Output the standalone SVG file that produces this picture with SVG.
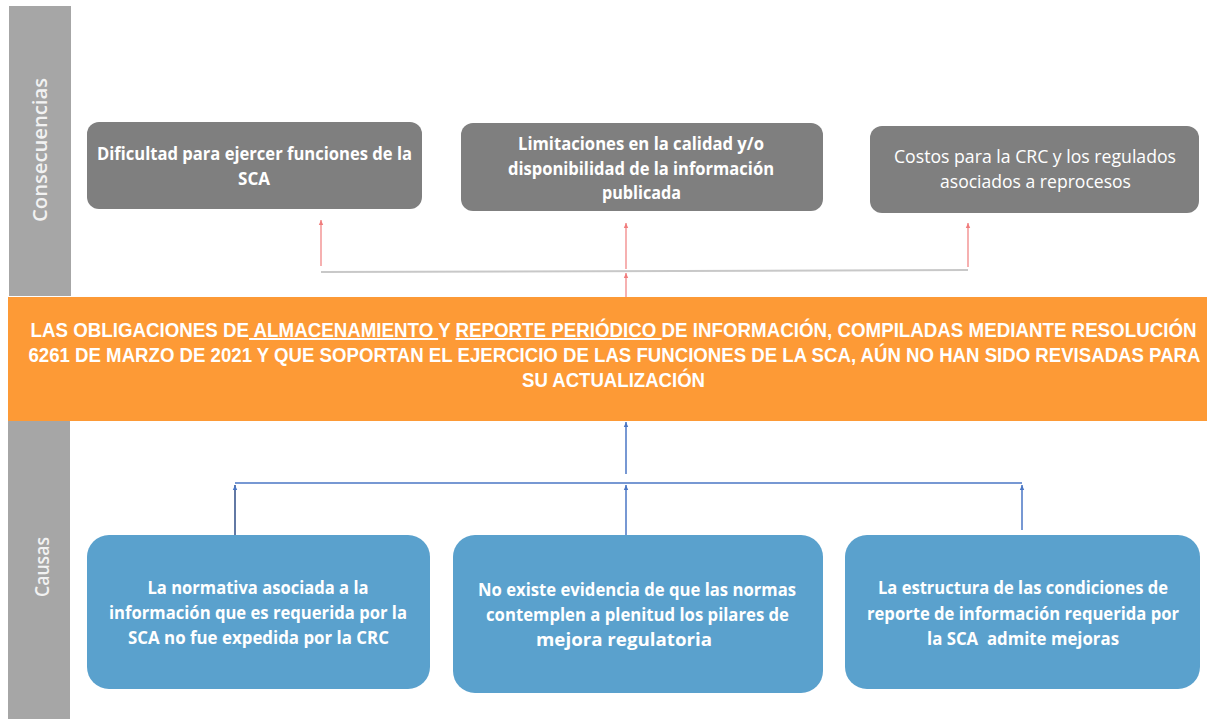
<svg xmlns="http://www.w3.org/2000/svg" width="1207" height="719" viewBox="0 0 1207 719">
<style>
.side{fill:#a6a6a6}
.side-t{fill:#f2f2f2;font-family:"Open Sans","Liberation Sans",sans-serif;font-weight:600;font-size:20px;text-anchor:middle}
.cons{fill:#7f7f7f}
.cause{fill:#5aa1cd}
.t{fill:#ffffff;font-family:"Open Sans","Liberation Sans",sans-serif;font-weight:700;font-size:18px;text-anchor:middle}
.reg{font-weight:400}
.main-t{fill:#ffffff;font-family:"Liberation Sans","Open Sans",sans-serif;font-weight:700;font-size:20px;text-anchor:middle}
.red{stroke:#f07c7c;stroke-width:1.2;fill:none}
.blue{stroke:#4a76c4;stroke-width:1.5;fill:none}
.gray{stroke:#c8c8c8;stroke-width:2;fill:none}
</style>
<defs>
<marker id="ar" markerWidth="6" markerHeight="6" refX="5" refY="3" orient="auto" markerUnits="userSpaceOnUse"><path d="M0,0.8 L5,3 L0,5.2 z" fill="#f07c7c"/></marker>
<marker id="ab" markerWidth="6" markerHeight="6" refX="5" refY="3" orient="auto" markerUnits="userSpaceOnUse"><path d="M0,0.8 L5,3 L0,5.2 z" fill="#4a76c4"/></marker>
</defs>
<rect width="1207" height="719" fill="#ffffff"/>

<g id="label-consecuencias">
<rect class="side" x="9" y="6" width="62" height="290"/>
<text class="side-t" transform="translate(47,150) rotate(-90)" textLength="144" lengthAdjust="spacingAndGlyphs">Consecuencias</text>
</g>
<g id="label-causas">
<rect class="side" x="8" y="421" width="62" height="298"/>
<text class="side-t" transform="translate(49,567) rotate(-90)" textLength="60" lengthAdjust="spacingAndGlyphs">Causas</text>
</g>

<g id="connectors">
<line class="gray" x1="321" y1="272" x2="968" y2="270"/>
<line class="red" x1="321" y1="266" x2="321" y2="220" marker-end="url(#ar)"/>
<line class="red" x1="626" y1="269" x2="626" y2="223" marker-end="url(#ar)"/>
<line class="red" x1="968" y1="267" x2="968" y2="223" marker-end="url(#ar)"/>
<line class="red" x1="626" y1="297" x2="626" y2="273" marker-end="url(#ar)"/>
<line class="blue" x1="626" y1="474" x2="626" y2="422" marker-end="url(#ab)"/>
<line class="blue" x1="235" y1="483" x2="1022" y2="483"/>
<line class="blue" x1="235" y1="535" x2="235" y2="485" marker-end="url(#ab)" style="stroke:#2e4d86"/>
<line class="blue" x1="626" y1="536" x2="626" y2="485" marker-end="url(#ab)"/>
<line class="blue" x1="1022" y1="530" x2="1022" y2="485" marker-end="url(#ab)"/>
</g>

<g id="problem">
<rect x="8" y="297" width="1199" height="124" fill="#fd9a36"/>
<text class="main-t" x="613.5" y="337" textLength="1166" lengthAdjust="spacingAndGlyphs" xml:space="preserve">LAS OBLIGACIONES DE<tspan text-decoration="underline"> ALMACENAMIENTO </tspan>Y <tspan text-decoration="underline">REPORTE PERIÓDICO </tspan>DE INFORMACIÓN, COMPILADAS MEDIANTE RESOLUCIÓN</text>
<text class="main-t" x="614.5" y="362" textLength="1172" lengthAdjust="spacingAndGlyphs">6261 DE MARZO DE 2021 Y QUE SOPORTAN EL EJERCICIO DE LAS FUNCIONES DE LA SCA, AÚN NO HAN SIDO REVISADAS PARA</text>
<text class="main-t" x="613.5" y="387" textLength="183" lengthAdjust="spacingAndGlyphs">SU ACTUALIZACIÓN</text>
</g>

<g id="cons1">
<rect class="cons" x="87" y="122" width="335" height="87" rx="12"/>
<text class="t" x="254.5" y="160" textLength="315" lengthAdjust="spacingAndGlyphs">Dificultad para ejercer funciones de la</text>
<text class="t" x="254" y="185" textLength="32" lengthAdjust="spacingAndGlyphs">SCA</text>
</g>
<g id="cons2">
<rect class="cons" x="461" y="123" width="362" height="88" rx="12"/>
<text class="t" x="641" y="150" textLength="246" lengthAdjust="spacingAndGlyphs">Limitaciones en la calidad y/o</text>
<text class="t" x="641" y="175" textLength="266" lengthAdjust="spacingAndGlyphs">disponibilidad de la información</text>
<text class="t" x="641.5" y="199" textLength="79" lengthAdjust="spacingAndGlyphs">publicada</text>
</g>
<g id="cons3">
<rect class="cons" x="870" y="126" width="329" height="87" rx="12"/>
<text class="t reg" x="1035" y="163" textLength="282" lengthAdjust="spacingAndGlyphs">Costos para la CRC y los regulados</text>
<text class="t reg" x="1035.5" y="188" textLength="191" lengthAdjust="spacingAndGlyphs">asociados a reprocesos</text>
</g>

<g id="cause1">
<rect class="cause" x="87" y="535" width="343" height="154" rx="22"/>
<text class="t" x="258" y="594" textLength="221" lengthAdjust="spacingAndGlyphs">La normativa asociada a la</text>
<text class="t" x="258" y="619" textLength="298" lengthAdjust="spacingAndGlyphs">información que es requerida por la</text>
<text class="t" x="258.5" y="644" textLength="261" lengthAdjust="spacingAndGlyphs">SCA no fue expedida por la CRC</text>
</g>
<g id="cause2">
<rect class="cause" x="453" y="535" width="370" height="158" rx="22"/>
<text class="t" x="637" y="596" textLength="318" lengthAdjust="spacingAndGlyphs">No existe evidencia de que las normas</text>
<text class="t" x="637.5" y="621" textLength="303" lengthAdjust="spacingAndGlyphs">contemplen a plenitud los pilares de</text>
<text class="t" x="624" y="646" textLength="176" lengthAdjust="spacingAndGlyphs">mejora regulatoria</text>
</g>
<g id="cause3">
<rect class="cause" x="845" y="535" width="355" height="154" rx="22"/>
<text class="t" x="1023" y="594" textLength="290" lengthAdjust="spacingAndGlyphs">La estructura de las condiciones de</text>
<text class="t" x="1023" y="620" textLength="312" lengthAdjust="spacingAndGlyphs">reporte de información requerida por</text>
<text class="t" x="1023" y="645" textLength="192" lengthAdjust="spacingAndGlyphs" xml:space="preserve">la SCA  admite mejoras</text>
</g>
</svg>
